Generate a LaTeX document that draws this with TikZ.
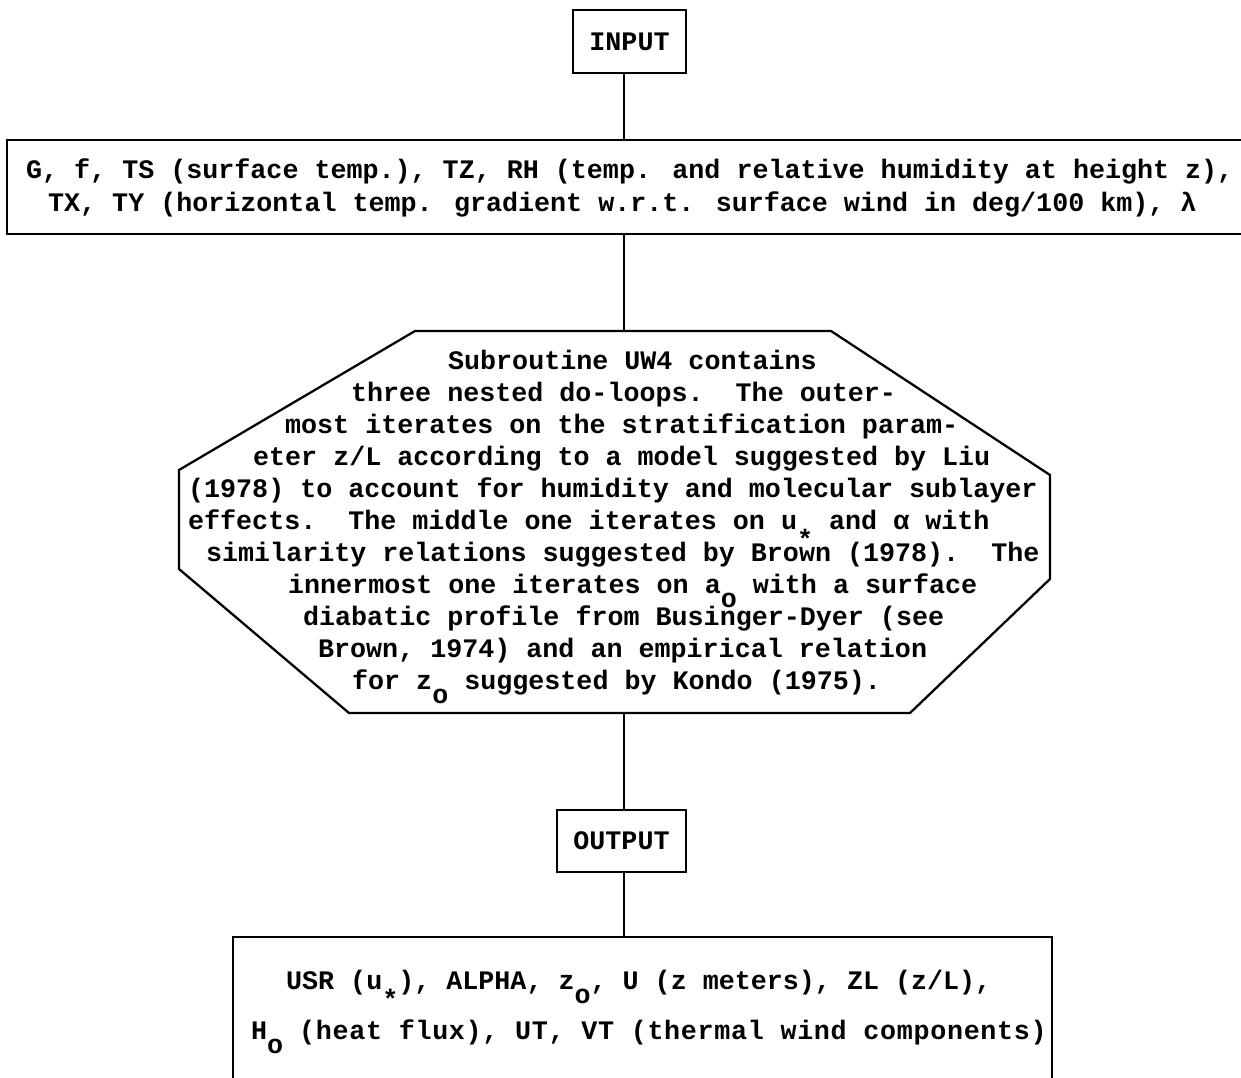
\documentclass[tikz,border=0pt]{standalone}
\usepackage{fontspec}
\setmainfont{Liberation Mono}
\newcommand{\lowo}{\raisebox{-8pt}{o}}
\newcommand{\lowstar}{\raisebox{-11pt}{*}}
\begin{document}
\begin{tikzpicture}[x=0.02cm, y=-0.02cm, line width=1.3pt,
    every node/.style={font=\fontsize{15.2pt}{18pt}\selectfont\bfseries},
    smallbox/.style={draw, rectangle, inner sep=0pt},
    line/.style={anchor=mid west, inner sep=0pt}]
    \useasboundingbox (0,0) rectangle (1241,1078);

    % Ingresso
    \node (inp) at (629.5,41.5) [smallbox, minimum width=2.26cm, minimum height=1.26cm] {INPUT};
    \node (indata) at (633.5,187) [smallbox, minimum width=25.06cm, minimum height=1.88cm] {};
    \node (in1) at (25,174) [line] {G, f, TS (surface temp.), TZ, RH (temp. and relative humidity at height z),};
    \node (in2) at (47,207) [line] {TX, TY (horizontal temp. gradient w.r.t. surface wind in deg/100 km), λ};

    % Subroutine
    \coordinate (ot) at (624,331);
    \coordinate (ob) at (624,713);
    \draw (415,331) -- (831,331) -- (1050,475) -- (1050,579) -- (910,713)
        -- (349,713) -- (179,569) -- (179,470) -- cycle;
    \node (s1) at (447,365) [line] {Subroutine UW4 contains};
    \node (s2) at (350,397) [line] {three nested do-loops.\ \ The outer-};
    \node (s3) at (284,429) [line] {most iterates on the stratification param-};
    \node (s4) at (252,461) [line] {eter z/L according to a model suggested by Liu};
    \node (s5) at (187,493) [line] {(1978) to account for humidity and molecular sublayer};
    \node (s6) at (187,525) [line] {effects.\ \ The middle one iterates on u\lowstar{} and α with};
    \node (s7) at (205,557) [line] {similarity relations suggested by Brown (1978).\ \ The};
    \node (s8) at (287,589) [line] {innermost one iterates on a\lowo{} with a surface};
    \node (s9) at (302,621) [line] {diabatic profile from Businger-Dyer (see};
    \node (s10) at (317,653) [line] {Brown, 1974) and an empirical relation};
    \node (s11) at (351,685) [line] {for z\lowo{} suggested by Kondo (1975).};

    % Uscita
    \node (outp) at (621.5,841) [smallbox, minimum width=2.58cm, minimum height=1.24cm] {OUTPUT};
    \node (outdata) at (642.5,1018.5) [smallbox, minimum width=16.38cm, minimum height=3.26cm] {};
    \node (o1) at (285,985) [line] {USR (u\lowstar), ALPHA, z\lowo, U (z meters), ZL (z/L),};
    \node (o2) at (250,1035) [line] {H\lowo{} \addfontfeature{LetterSpace=2.6}(heat flux), UT, VT (thermal wind components)};

    % Collegamenti
    \draw (inp.south -| ot) -- (indata.north -| ot);
    \draw (indata.south -| ot) -- (ot);
    \draw (ob) -- (outp.north -| ob);
    \draw (outp.south -| ob) -- (outdata.north -| ob);
\end{tikzpicture}
\end{document}
